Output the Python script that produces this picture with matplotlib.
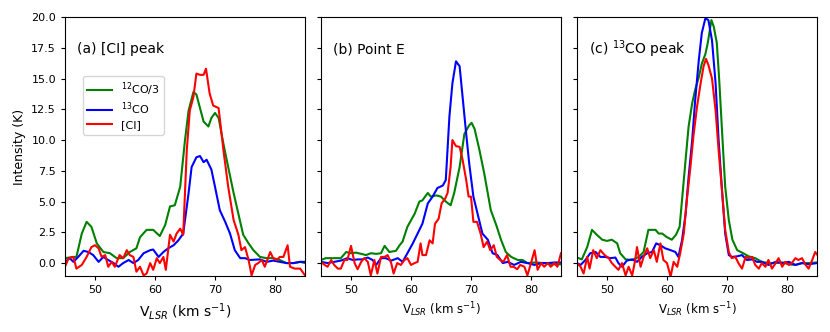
import numpy as np
import matplotlib
matplotlib.use("Agg")
import matplotlib.pyplot as plt

# (a) [CI] peak
vel_a_12co = [45.0, 46.4, 46.9, 47.8, 48.6, 49.4, 50.3, 51.4, 52.5, 53.6, 54.7, 55.8, 56.9, 57.5,
              58.6, 59.7, 60.8, 61.7, 62.5, 63.3, 64.2, 65.0, 65.6, 66.4, 66.9, 68.1, 68.9, 69.4,
              70.0, 70.6, 71.4, 72.2, 73.1, 73.9, 74.7, 75.6, 76.4, 77.5, 78.6, 79.7, 80.8, 81.9,
              83.1, 84.2, 85.0]
tmb_a_12co = [0.4, 0.5, 0.5, 2.4, 3.35, 2.95, 1.6, 0.9, 0.8, 0.4, 0.4, 0.9, 1.2, 2.1,
              2.7, 2.7, 2.2, 3.1, 4.6, 4.7, 6.2, 10.0, 12.4, 13.9, 13.7, 11.5, 11.1, 11.8,
              12.2, 11.8, 9.7, 7.8, 5.7, 4.0, 2.3, 1.6, 1.05, 0.5, 0.4, 0.4, 0.25, 0.0,
              0.0, 0.1, 0.0]

vel_a_13co = [45.0, 45.8, 46.4, 47.2, 48.1, 48.9, 49.7, 50.6, 51.4, 52.2, 53.1, 53.9, 54.7, 55.6,
              56.4, 57.2, 58.1, 59.2, 59.7, 60.6, 61.4, 62.2, 63.1, 63.9, 64.7, 65.6, 66.1, 66.9,
              67.5, 68.1, 68.6, 69.4, 70.0, 70.8, 71.7, 72.5, 73.3, 74.2, 75.0, 75.8, 77.5, 78.6,
              79.7, 80.8, 81.9, 83.1, 84.2, 85.0]
tmb_a_13co = [0.1, 0.4, 0.1, 0.5, 1.0, 0.9, 0.65, 0.1, 0.5, 0.25, 0.0, -0.3, 0.0, 0.25,
              0.0, 0.25, 0.8, 1.05, 1.1, 0.5, 0.9, 1.2, 1.45, 1.85, 2.4, 5.7, 7.8, 8.6,
              8.7, 8.2, 8.4, 7.6, 6.2, 4.3, 3.35, 2.4, 1.05, 0.4, 0.4, 0.25, 0.3, 0.1,
              0.2, 0.1, 0.0, 0.0, 0.1, 0.1]

vel_a_ci = [45.0, 45.6, 46.4, 46.9, 47.8, 48.6, 49.4, 50.0, 50.6, 51.1, 51.7, 52.2, 52.8, 53.3,
            54.1, 54.7, 55.3, 55.8, 56.4, 56.9, 57.5, 58.1, 58.6, 59.2, 59.7, 60.3, 60.8, 61.4,
            61.8, 62.5, 63.1, 63.6, 64.2, 64.7, 65.3, 65.8, 66.4, 66.9, 67.5, 68.1, 68.5, 69.1,
            69.7, 70.6, 71.4, 72.2, 73.1, 73.9, 74.4, 75.0, 75.6, 76.1, 76.7, 77.2, 77.8, 78.3,
            79.2, 79.7, 80.3, 80.8, 81.4, 82.1, 82.5, 83.3, 84.2, 85.0]
tmb_a_ci = [-0.3, 0.4, 0.5, -0.45, -0.15, 0.5, 1.3, 1.45, 1.2, 0.5, 0.65, -0.3, 0.1, -0.3,
            0.65, 0.4, 1.05, 0.65, 0.5, -0.7, -0.3, -1.0, -0.85, 0.0, -0.55, 0.4, 0.0, 0.5,
            -0.55, 2.3, 1.75, 2.4, 2.8, 2.3, 9.2, 12.4, 13.5, 15.4, 15.3, 15.3, 15.8, 13.8,
            12.8, 12.6, 9.2, 6.2, 3.5, 2.3, 1.05, 1.3, 0.25, -1.0, -0.15, 0.0, 0.25, -0.3,
            0.9, 0.4, 0.25, 0.5, 0.5, 1.45, -0.3, -0.45, -0.45, -1.0]

# (b) Point E
vel_b_12co = [45.0, 45.8, 48.3, 49.2, 50.0, 50.8, 51.7, 52.5, 53.3, 54.2, 55.0, 55.6, 56.4, 57.5,
              58.1, 58.6, 59.4, 60.6, 61.4, 61.9, 62.8, 63.3, 64.2, 65.0, 65.8, 66.6, 67.2, 68.1,
              68.9, 69.7, 70.1, 70.6, 71.4, 72.2, 73.3, 74.2, 75.0, 75.8, 76.7, 77.8, 78.6, 79.4,
              80.6, 82.2, 83.9, 85.0]
tmb_b_12co = [0.25, 0.4, 0.4, 0.9, 0.8, 0.85, 0.75, 0.65, 0.8, 0.75, 0.8, 1.4, 0.9, 1.0,
              1.45, 1.75, 2.95, 4.0, 5.0, 5.1, 5.7, 5.4, 5.5, 5.4, 5.0, 4.7, 5.7, 7.8,
              10.5, 11.2, 11.4, 10.9, 9.2, 7.3, 4.3, 3.1, 1.9, 0.9, 0.5, 0.25, 0.25, 0.0,
              0.05, 0.0, -0.1, -0.1]

vel_b_13co = [45.0, 46.1, 47.2, 48.3, 49.4, 50.3, 51.1, 51.9, 52.8, 53.6, 54.2, 55.0, 55.8, 56.7,
              57.8, 58.6, 59.4, 60.3, 61.1, 61.9, 62.8, 63.6, 64.4, 65.3, 65.8, 66.4, 66.9, 67.5,
              68.1, 68.6, 69.2, 69.7, 70.4, 71.1, 71.9, 72.8, 73.6, 74.4, 75.3, 76.1, 77.2, 78.3,
              79.4, 80.6, 81.7, 82.8, 83.9, 85.0]
tmb_b_13co = [0.1, 0.0, 0.1, 0.2, 0.4, 0.25, 0.3, 0.3, 0.45, 0.25, -0.15, 0.4, 0.4, 0.2,
              0.4, 0.1, 0.8, 1.6, 2.4, 3.2, 4.85, 5.4, 6.1, 6.3, 6.75, 11.9, 14.6, 16.4,
              16.0, 13.5, 10.5, 8.1, 5.4, 4.0, 2.4, 1.9, 0.8, 0.65, 0.0, 0.1, -0.15, 0.1,
              0.0, -0.15, 0.0, 0.0, 0.05, 0.05]

vel_b_ci = [45.0, 45.6, 46.1, 46.7, 47.2, 47.8, 48.3, 48.9, 49.4, 50.0, 50.6, 51.1, 51.7, 52.2,
            52.8, 53.3, 53.9, 54.4, 55.0, 55.6, 56.1, 56.7, 57.1, 57.7, 58.3, 58.9, 59.4, 60.0,
            60.6, 61.1, 61.6, 61.9, 62.5, 63.1, 63.6, 64.0, 64.6, 65.1, 65.7, 66.1, 66.6, 66.9,
            67.5, 68.1, 68.6, 69.2, 69.6, 70.0, 70.4, 71.0, 71.6, 72.1, 72.7, 73.2, 73.8, 74.3,
            74.9, 75.4, 76.0, 76.6, 77.1, 77.7, 78.2, 78.9, 79.4, 80.0, 80.6, 81.1, 81.7, 82.2,
            82.8, 83.3, 83.9, 84.4, 85.0]
tmb_b_ci = [0.1, -0.15, -0.3, 0.25, -0.15, -0.45, -0.45, 0.25, 0.25, 1.4, 0.0, -0.5, 0.1, 0.4,
            0.1, -1.0, 0.25, -0.85, 0.5, 0.5, 0.65, 0.0, -0.85, 0.0, -0.15, 0.25, 0.4, -0.15,
            0.0, 0.1, 1.6, 0.65, 0.65, 1.85, 1.6, 3.2, 3.6, 4.85, 5.25, 5.7, 7.8, 10.0,
            9.5, 9.45, 8.4, 6.75, 5.4, 5.4, 3.35, 3.35, 2.4, 1.3, 1.75, 1.05, 1.45, 0.5,
            0.25, 0.1, 0.65, -0.3, -0.3, -0.5, -0.15, -0.3, -1.0, 0.0, 1.05, -0.55, 0.0, -0.3,
            0.0, -0.3, 0.0, -0.3, 0.8]

# (c) 13CO peak
vel_c_12co = [45.0, 45.8, 46.7, 47.5, 48.3, 49.2, 50.0, 50.8, 51.7, 52.2, 53.1, 54.2, 55.3, 56.1,
              56.9, 58.1, 58.6, 59.2, 60.0, 60.8, 61.5, 62.1, 62.5, 63.1, 63.6, 64.2, 64.7, 65.3,
              65.8, 66.4, 66.8, 67.4, 67.8, 68.3, 68.7, 69.2, 69.7, 70.3, 70.9, 71.7, 72.5, 73.6,
              74.7, 75.8, 76.9, 78.1, 79.2, 80.3, 81.4, 82.5, 83.6, 85.0]
tmb_c_12co = [0.45, 0.3, 1.3, 2.7, 2.3, 1.9, 1.8, 1.9, 1.6, 0.8, 0.3, 0.25, 0.5, 0.9,
              2.7, 2.7, 2.4, 2.4, 2.1, 1.9, 2.3, 2.95, 5.1, 8.4, 11.1, 13.0, 14.1, 15.1,
              16.2, 17.0, 17.9, 19.75, 19.2, 17.9, 14.9, 10.5, 6.2, 3.5, 1.9, 1.05, 0.85, 0.55,
              0.4, 0.1, 0.0, 0.0, 0.05, -0.1, -0.15, 0.0, 0.0, 0.05]

vel_c_13co = [45.0, 45.6, 46.4, 47.2, 48.1, 48.9, 49.7, 50.6, 51.4, 51.9, 52.5, 53.3, 54.2, 55.0,
              55.8, 56.7, 57.5, 58.2, 58.9, 59.7, 60.6, 61.4, 61.9, 62.5, 63.1, 63.6, 64.2, 64.7,
              65.3, 65.8, 66.4, 66.9, 67.5, 68.1, 68.6, 69.2, 69.7, 70.3, 70.8, 71.7, 72.5, 73.3,
              74.2, 75.0, 75.8, 76.9, 78.1, 79.2, 80.3, 81.4, 82.5, 83.6, 85.0]
tmb_c_13co = [0.0, -0.15, 0.25, 0.8, 0.9, 0.5, 0.5, 0.4, 0.45, 0.0, -0.3, 0.2, 0.3, 0.1,
              0.5, 0.8, 0.9, 1.6, 1.45, 1.2, 1.05, 0.9, 0.5, 1.85, 4.0, 7.0, 10.0, 13.25,
              16.5, 18.7, 19.9, 19.75, 18.1, 14.6, 10.0, 5.7, 2.4, 0.65, 0.5, 0.55, 0.65, 0.25,
              0.3, 0.1, 0.1, -0.15, 0.1, 0.0, 0.1, -0.15, 0.0, -0.1, 0.0]

vel_c_ci = [45.0, 45.6, 46.1, 46.7, 47.1, 47.7, 48.3, 48.9, 49.6, 50.3, 50.8, 51.4, 51.9, 52.5,
            53.1, 53.6, 54.2, 54.7, 55.0, 55.6, 56.1, 56.7, 57.2, 57.8, 58.3, 58.9, 59.4, 60.0,
            60.6, 61.1, 61.7, 62.2, 62.8, 63.3, 63.9, 64.4, 65.0, 65.6, 66.1, 66.5, 66.9, 67.5,
            68.1, 68.6, 69.2, 69.7, 70.3, 70.8, 71.4, 71.9, 72.5, 73.1, 73.6, 74.2, 74.7, 75.3,
            75.8, 76.4, 76.9, 77.5, 78.1, 78.6, 79.2, 79.7, 80.3, 80.8, 81.4, 81.9, 82.5, 83.1,
            83.6, 84.2, 84.7, 85.0]
tmb_c_ci = [0.0, -0.3, -0.85, 0.5, -0.45, 1.05, 0.4, 1.05, 0.65, 0.4, 0.0, -0.3, -0.55, 0.0,
            -1.0, -0.3, -1.0, 0.25, 1.3, -0.3, 0.5, 1.2, 0.4, 1.05, 0.1, 1.6, 0.25, 0.0,
            -1.1, 0.1, -0.3, 0.8, 2.4, 5.1, 7.8, 10.3, 12.7, 14.6, 16.0, 16.6, 16.1, 15.0,
            12.4, 9.2, 5.7, 2.7, 0.9, 0.4, 0.5, 0.0, -0.45, 0.5, 0.4, 0.5, -0.15, -0.45,
            0.0, -0.3, 0.25, -0.45, 0.0, 0.4, -0.3, 0.1, -0.15, 0.0, 0.4, 0.25, 0.4, -0.15,
            -0.45, 0.25, 0.9, 0.7]

panel_titles = ["(a) [CI] peak", "(b) Point E", "(c) $^{13}$CO peak"]
series_labels = ["$^{12}$CO/3", "$^{13}$CO", "[CI]"]
series_colors = ["green", "blue", "red"]

panels = [
    [(vel_a_12co, tmb_a_12co), (vel_a_13co, tmb_a_13co), (vel_a_ci, tmb_a_ci)],
    [(vel_b_12co, tmb_b_12co), (vel_b_13co, tmb_b_13co), (vel_b_ci, tmb_b_ci)],
    [(vel_c_12co, tmb_c_12co), (vel_c_13co, tmb_c_13co), (vel_c_ci, tmb_c_ci)],
]

fig = plt.figure(figsize=(8.3, 3.32), dpi=100)
lefts = [65 / 830, 321 / 830, 577 / 830]
for i, left in enumerate(lefts):
    ax = fig.add_axes([left, 56 / 332, 240 / 830, 259 / 332])
    for (v, t), lab, col in zip(panels[i], series_labels, series_colors):
        ax.plot(v, t, color=col, lw=1.5, label=lab)
    ax.set_xlim(45, 85)
    ax.set_ylim(-1.05, 20)
    ax.set_xticks([50, 60, 70, 80])
    ax.set_yticks(np.arange(0, 20.1, 2.5))
    ax.tick_params(labelsize=8, length=3)
    ax.text(0.05, 0.875, panel_titles[i], transform=ax.transAxes, fontsize=10, va='center')
    if i == 0:
        ax.set_ylabel("Intensity (K)", fontsize=9)
        ax.set_xlabel(r"V$_{LSR}$ (km s$^{-1}$)", fontsize=10)
        ax.legend(loc='upper left', bbox_to_anchor=(0.074, 0.772), borderaxespad=0,
                  fontsize=8, handlelength=2.2, labelspacing=0.25)
    else:
        ax.set_yticklabels([])
        ax.set_xlabel(r"V$_{LSR}$ (km s$^{-1}$)", fontsize=8.5)

fig.savefig("out.png", dpi=100)
